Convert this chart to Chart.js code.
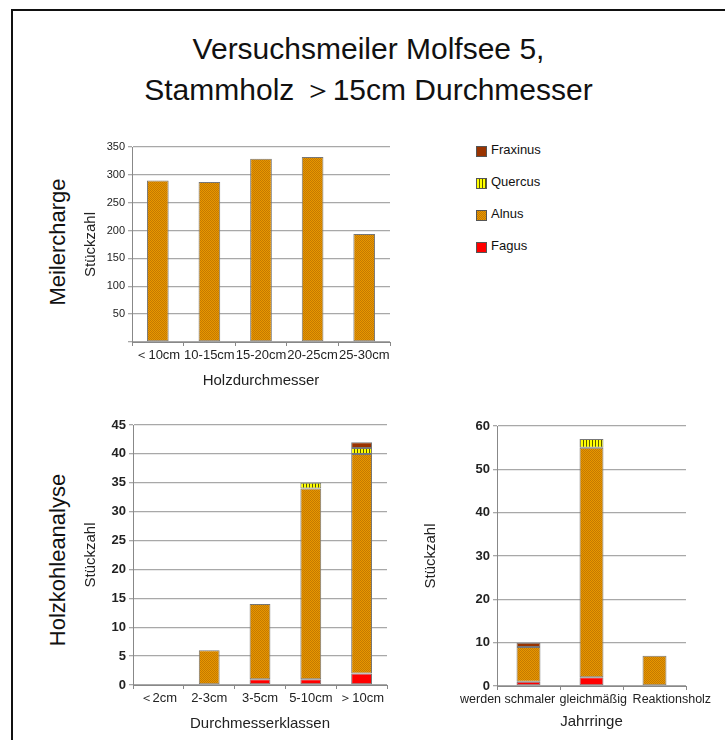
<!DOCTYPE html>
<html>
<head>
<meta charset="utf-8">
<script src="https://cdn.jsdelivr.net/npm/chart.js@4.4.0/dist/chart.umd.min.js"></script>
<style>
  body { margin: 0; background: #fff; font-family: "Liberation Sans", Arial, sans-serif; }
  #page { position: relative; width: 725px; height: 740px; overflow: hidden; }
  #frame { position: absolute; left: 11px; top: 9px; width: 740px; height: 760px;
           border-top: 2px solid #111; border-left: 2px solid #111; }
  .title { position: absolute; left: 12px; width: 713px; text-align: center; font-size: 30px; color: #111; }
  .side { position: absolute; width: 220px; height: 26px; line-height: 26px; text-align: center;
          font-size: 22px; color: #111; transform: rotate(-90deg); white-space: nowrap; }
  canvas { position: absolute; }
  #legend { position: absolute; left: 476px; top: 142px; font-size: 13px; color: #111; }
  .item { height: 32px; display: flex; align-items: flex-start; }
  .box { width: 9px; height: 9px; border: 1px solid #555; margin: 4px 4px 0 0; }
</style>
</head>
<body>
<div id="page">
  <div id="frame"></div>
  <div class="title" style="top:32px">Versuchsmeiler Molfsee 5,</div>
  <div class="title" style="top:70px">Stammholz ＞15cm Durchmesser</div>
  <div class="side" style="left:-52px; top:229px">Meilercharge</div>
  <div class="side" style="left:-52px; top:547px">Holzkohleanalyse</div>
  <div id="legend"></div>
  <canvas id="topChart" width="330" height="265" style="left:70px; top:130px"></canvas>
  <canvas id="klassenChart" width="330" height="330" style="left:70px; top:410px"></canvas>
  <canvas id="ringChart" width="315" height="330" style="left:410px; top:410px"></canvas>
</div>
<script>
// Meilercharge
const topLabels = ['＜10cm', '10-15cm', '15-20cm', '20-25cm', '25-30cm'];
const topAlnus = [290, 287, 329, 332, 194];

// Holzkohleanalyse - Durchmesserklassen
const klassenLabels = ['＜2cm', '2-3cm', '3-5cm', '5-10cm', '＞10cm'];
const klassenFagus = [0, 0, 1, 1, 2];
const klassenAlnus = [0, 6, 13, 33, 38];
const klassenQuercus = [0, 0, 0, 1, 1];
const klassenFraxinus = [0, 0, 0, 0, 1];

// Holzkohleanalyse - Jahrringe
const ringLabels = ['werden schmaler', 'gleichmäßig', 'Reaktionsholz'];
const ringFagus = [1, 2, 0];
const ringAlnus = [8, 53, 7];
const ringQuercus = [0, 2, 0];
const ringFraxinus = [1, 0, 0];

const legendNames = ['Fraxinus', 'Quercus', 'Alnus', 'Fagus'];

function makePattern(w, h, draw) {
  const c = document.createElement('canvas');
  c.width = w; c.height = h;
  draw(c.getContext('2d'));
  return c.getContext('2d').createPattern(c, 'repeat');
}

const alnusFill = makePattern(2, 2, g => {
  g.fillStyle = '#E89600'; g.fillRect(0, 0, 2, 2);
  g.fillStyle = '#C47A00'; g.fillRect(0, 0, 1, 1); g.fillRect(1, 1, 1, 1);
});
const quercusFill = makePattern(3, 3, g => {
  g.fillStyle = '#FFFF00'; g.fillRect(0, 0, 3, 3);
  g.fillStyle = '#5A5A00'; g.fillRect(2, 0, 1, 3);
});
const colors = {
  Fraxinus: '#993300',
  Quercus: quercusFill,
  Alnus: alnusFill,
  Fagus: '#FF0000'
};
const swatchCss = {
  Fraxinus: '#993300',
  Quercus: 'repeating-linear-gradient(90deg, #FFFF00 0 2px, #5A5A00 2px 3px)',
  Alnus: 'repeating-conic-gradient(#C47A00 0 25%, #E89600 0 50%) 0 0 / 2px 2px',
  Fagus: '#FF0000'
};

// Legende
const legend = document.getElementById('legend');
legendNames.forEach(name => {
  const item = document.createElement('div');
  item.className = 'item';
  item.innerHTML = `<div class="box" style="background:${swatchCss[name]}"></div><span>${name}</span>`;
  legend.appendChild(item);
});

function ds(name, data) {
  return {
    label: name,
    data: data,
    backgroundColor: colors[name],
    borderColor: '#777',
    borderWidth: c => (c.raw ? 1 : 0),
    borderSkipped: false
  };
}

function makeChart(id, labels, datasets, o) {
  return new Chart(document.getElementById(id), {
    type: 'bar',
    data: { labels: labels, datasets: datasets },
    options: {
      responsive: false,
      animation: false,
      barPercentage: o.bar,
      categoryPercentage: 1,
      layout: { padding: o.pad },
      plugins: { legend: { display: false }, tooltip: { enabled: false } },
      scales: {
        x: {
          stacked: true,
          border: { color: '#888', width: 1 },
          grid: { drawOnChartArea: false, tickLength: 4, color: '#888' },
          ticks: {
            color: '#222', font: { size: o.xFont, family: 'Liberation Sans' },
            maxRotation: 0, autoSkip: false, padding: 2,
            callback: o.xLabel || function (v) { return this.getLabelForValue(v); }
          },
          title: { display: true, text: o.xTitle, color: '#222', font: { size: 15, family: 'Liberation Sans' }, padding: 0 },
          afterFit: s => { s.height = o.xH; }
        },
        y: {
          stacked: true,
          min: 0, max: o.max,
          border: { color: '#888', width: 1 },
          grid: { color: '#A8A8A8', lineWidth: 1.3, tickLength: 4 },
          ticks: {
            stepSize: o.step,
            color: '#222',
            font: { size: o.yFont, weight: o.yWeight, family: 'Liberation Sans' },
            padding: 3,
            callback: v => (o.hideZero && v === 0 ? '' : v)
          },
          title: { display: true, text: 'Stückzahl', color: '#222', font: { size: 15, family: 'Liberation Sans' }, padding: 0 },
          afterFit: s => { s.width = o.yW; }
        }
      }
    }
  });
}

makeChart('topChart', topLabels, [ds('Alnus', topAlnus)], {
  bar: 0.42, pad: { top: 17, right: 10, left: 12, bottom: 5 },
  xH: 48, yW: 50, max: 350, step: 50, hideZero: true,
  xFont: 13, yFont: 11, yWeight: 'normal', xTitle: 'Holzdurchmesser'
});

makeChart('klassenChart', klassenLabels, [
  ds('Fagus', klassenFagus), ds('Alnus', klassenAlnus),
  ds('Quercus', klassenQuercus), ds('Fraxinus', klassenFraxinus)
], {
  bar: 0.41, pad: { top: 15, right: 13, left: 12, bottom: 7 },
  xH: 48, yW: 51, max: 45, step: 5, hideZero: false,
  xFont: 13, yFont: 13, yWeight: 'bold', xTitle: 'Durchmesserklassen'
});

// Excel rückt die langen Beschriftungen auseinander
makeChart('ringChart', ringLabels, [
  ds('Fagus', ringFagus), ds('Alnus', ringAlnus),
  ds('Quercus', ringQuercus), ds('Fraxinus', ringFraxinus)
], {
  bar: 0.38, pad: { top: 16, right: 39, left: 12, bottom: 9 },
  xH: 45, yW: 75, max: 60, step: 10, hideZero: false,
  xFont: 12.5, yFont: 13, yWeight: 'bold', xTitle: 'Jahrringe',
  xLabel: function (v, i) {
    const t = this.getLabelForValue(v);
    if (i === 0) return t + ' '.repeat(12);
    if (i === ringLabels.length - 1) return ' '.repeat(10) + t;
    return ' ' + t;
  }
});
</script>
</body>
</html>
